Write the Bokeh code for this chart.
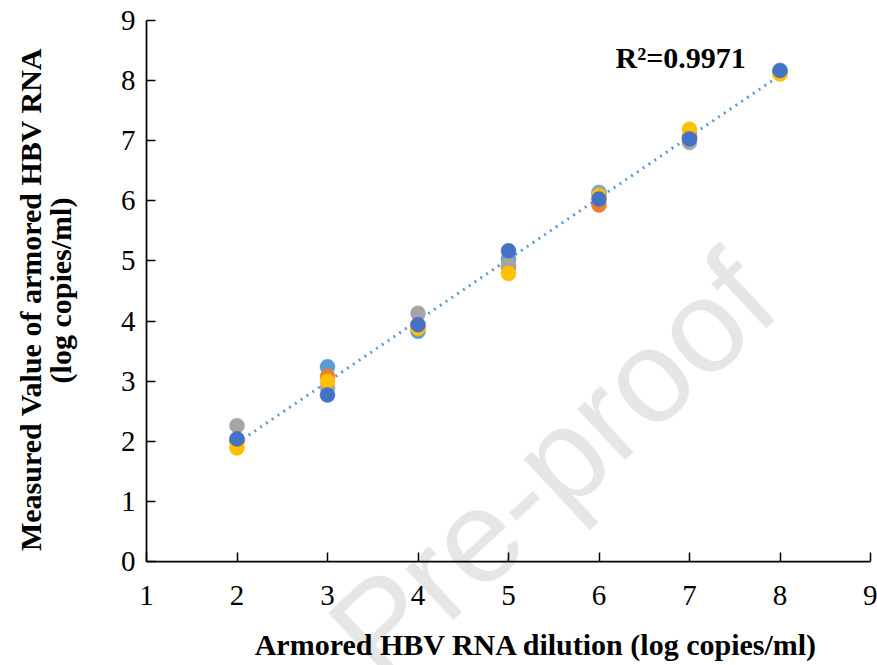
import numpy as np
from bokeh.plotting import figure
from bokeh.models import Label, FixedTicker, Range1d, LinearAxis
from bokeh.embed import file_html
from bokeh.resources import INLINE

# ---- data ----
dilution = [2, 3, 4, 5, 6, 7, 8]
series_light_blue = [2.02, 3.24, 3.83, 5.03, 6.14, 7.06, 8.15]
series_orange = [2.00, 3.08, 3.90, 4.90, 5.93, 7.05, 8.12]
series_gray = [2.26, 2.89, 4.13, 4.95, 6.12, 6.97, 8.14]
series_yellow = [1.89, 3.00, 3.88, 4.79, 6.08, 7.19, 8.11]
series_dark_blue = [2.04, 2.77, 3.94, 5.17, 6.03, 7.03, 8.17]
x_ticks = [1, 2, 3, 4, 5, 6, 7, 8, 9]
y_ticks = [0, 1, 2, 3, 4, 5, 6, 7, 8, 9]
r2_text = "R\u00b2=0.9971"
x_title = "Armored HBV RNA dilution (log copies/ml)"
y_title_1 = "Measured  Value of armored HBV RNA"
y_title_2 = "(log copies/ml)"
watermark = "Pre-proof"

series = [
    (series_light_blue, "#5B9BD5"),
    (series_orange, "#ED7D31"),
    (series_gray, "#A5A5A5"),
    (series_yellow, "#FFC000"),
    (series_dark_blue, "#4472C4"),
]

SERIF = "Liberation Serif"
W, H = 877, 665
# axis box in pixels (left, right, top, bottom) of the reference
AX_L, AX_R, AX_T, AX_B = 146.0, 870.0, 20.0, 561.0
XMIN, XMAX, YMIN, YMAX = 1, 9, 0, 9
ppx = (AX_R - AX_L) / (XMAX - XMIN)
ppy = (AX_B - AX_T) / (YMAX - YMIN)
x_range = Range1d(XMIN - AX_L / ppx, XMAX + (W - AX_R) / ppx)
y_range = Range1d(YMIN - (H - AX_B) / ppy, YMAX + AX_T / ppy)


def px(xp, yp):
    """pixel position (from top-left) -> data coordinates"""
    return x_range.start + xp / ppx, y_range.end - yp / ppy


p = figure(width=W, height=H, output_backend="svg", toolbar_location=None,
           x_range=x_range, y_range=y_range, title=None,
           x_axis_location=None, y_axis_location=None, min_border=0)
p.outline_line_color = None
p.xgrid.grid_line_color = None
p.ygrid.grid_line_color = None
p.background_fill_color = "white"
p.border_fill_color = "white"

# watermark
wx, wy = px(552, 465)
p.add_layout(Label(x=wx, y=wy, text=watermark, angle=np.deg2rad(43),
                   text_align="center", text_baseline="middle",
                   text_font="Liberation Sans", text_font_size="132px",
                   text_color="#e6e6e6", level="underlay"))

xaxis = LinearAxis(fixed_location=YMIN, bounds=(XMIN, XMAX))
yaxis = LinearAxis(fixed_location=XMIN, bounds=(YMIN, YMAX))
p.add_layout(xaxis, "below")
p.add_layout(yaxis, "left")
for ax, ticks in ((xaxis, x_ticks), (yaxis, y_ticks)):
    ax.ticker = FixedTicker(ticks=ticks)
    ax.minor_tick_line_color = None
    ax.major_tick_in = 9
    ax.major_tick_out = 0
    ax.axis_line_color = "black"
    ax.axis_line_width = 1.75
    ax.major_tick_line_color = "black"
    ax.major_tick_line_width = 1.5
    ax.major_label_text_font = SERIF
    ax.major_label_text_font_size = "29px"
    ax.major_label_text_color = "black"
xaxis.major_label_standoff = 24
yaxis.major_label_standoff = 11

# trendline from least squares on all points
all_x = np.array(dilution * len(series), dtype=float)
all_y = np.concatenate([np.array(s[0], dtype=float) for s in series])
a, b = np.polyfit(all_x, all_y, 1)
tx = [dilution[0], dilution[-1]]
ty = [a * tx[0] + b, a * tx[1] + b]
p.line(tx, ty, line_color="#5B9BD5", line_width=3, line_dash="2 5")

for vals, col in series:
    p.scatter(dilution, vals, size=15, fill_color=col, line_color=col, line_width=0.5)

rx, ry = px(615, 57)
p.add_layout(Label(x=rx, y=ry, text=r2_text, text_font=SERIF,
                   text_font_size="30px", text_font_style="bold",
                   text_align="left", text_baseline="middle", text_color="black"))
tx_, ty_ = px(536, 644)
p.add_layout(Label(x=tx_, y=ty_, text=x_title, text_font=SERIF,
                   text_font_size="30px", text_font_style="bold",
                   text_align="center", text_baseline="middle", text_color="black"))
y1x, y1y = px(30, 295)
p.add_layout(Label(x=y1x, y=y1y, text=y_title_1, text_font=SERIF, angle=np.pi / 2,
                   text_font_size="30px", text_font_style="bold",
                   text_align="center", text_baseline="middle", text_color="black"))
y2x, y2y = px(60, 290)
p.add_layout(Label(x=y2x, y=y2y, text=y_title_2, text_font=SERIF, angle=np.pi / 2,
                   text_font_size="30px", text_font_style="bold",
                   text_align="center", text_baseline="middle", text_color="black"))

open("out.html", "w").write(file_html(p, INLINE))
